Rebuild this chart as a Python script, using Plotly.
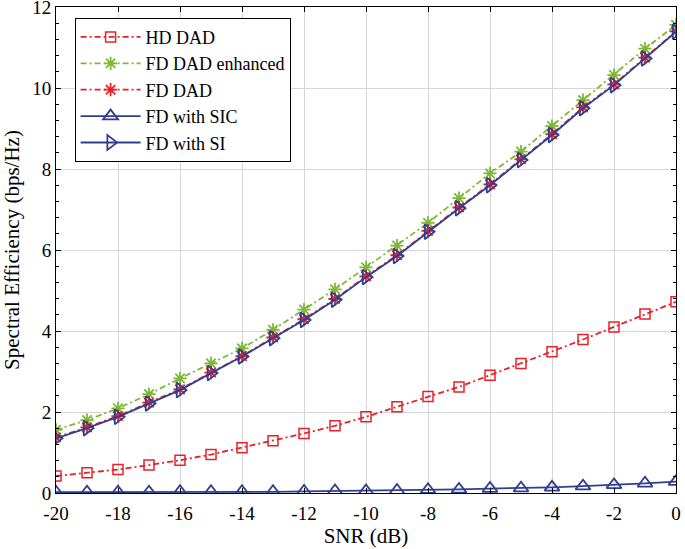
import plotly.graph_objects as go

snr = list(range(-20, 1))
hd_dad = [0.42, 0.50, 0.58, 0.69, 0.81, 0.95, 1.12, 1.29, 1.47, 1.66, 1.88,
          2.13, 2.38, 2.62, 2.91, 3.20, 3.49, 3.79, 4.10, 4.42, 4.72]
fd_dad_enh = [1.56, 1.80, 2.09, 2.44, 2.83, 3.20, 3.57, 4.03, 4.53, 5.03, 5.57,
              6.11, 6.67, 7.28, 7.89, 8.43, 9.06, 9.70, 10.32, 10.97, 11.56]
fd_dad = [1.37, 1.62, 1.90, 2.23, 2.56, 2.97, 3.38, 3.84, 4.29, 4.79, 5.35,
          5.87, 6.47, 7.05, 7.62, 8.24, 8.86, 9.52, 10.09, 10.75, 11.40]
fd_si = [1.35, 1.60, 1.88, 2.21, 2.54, 2.96, 3.37, 3.82, 4.27, 4.77, 5.33,
         5.85, 6.45, 7.03, 7.60, 8.22, 8.84, 9.50, 10.07, 10.73, 11.39]
fd_sic = [0.02, 0.02, 0.02, 0.02, 0.03, 0.03, 0.03, 0.03, 0.04, 0.05, 0.05,
          0.06, 0.08, 0.09, 0.11, 0.12, 0.14, 0.17, 0.20, 0.24, 0.28]

x_ticks = list(range(-20, 1, 2))
x_ticktext = [str(v) for v in x_ticks]
y_ticks = list(range(0, 13, 2))

RED = "#E8202A"
GREEN = "#7CB835"
BLUE = "#2F3F8F"
DASHDOT = "6px,3px,2px,3px"
FONT = "Liberation Serif"
FS = 19

fig = go.Figure()
fig.add_trace(go.Scatter(
    x=snr, y=hd_dad, name="HD DAD", mode="lines+markers",
    line=dict(color=RED, width=1.8, dash=DASHDOT),
    marker=dict(symbol="square-open", size=10, color=RED, line=dict(width=1.5, color=RED))))
fig.add_trace(go.Scatter(
    x=snr, y=fd_dad_enh, name="FD DAD enhanced", mode="lines+markers",
    line=dict(color=GREEN, width=1.8, dash=DASHDOT),
    marker=dict(symbol="asterisk-open", size=11, color=GREEN, line=dict(width=1.8, color=GREEN))))
fig.add_trace(go.Scatter(
    x=snr, y=fd_dad, name="FD DAD", mode="lines+markers",
    line=dict(color=RED, width=1.8, dash=DASHDOT),
    marker=dict(symbol="asterisk-open", size=11, color=RED, line=dict(width=1.8, color=RED))))
fig.add_trace(go.Scatter(
    x=snr, y=fd_sic, name="FD with SIC", mode="lines+markers",
    line=dict(color=BLUE, width=1.8),
    marker=dict(symbol="triangle-up-open", size=13, color=BLUE, line=dict(width=1.8, color=BLUE))))
fig.add_trace(go.Scatter(
    x=snr, y=fd_si, name="FD with SI", mode="lines+markers",
    line=dict(color=BLUE, width=1.8),
    marker=dict(symbol="triangle-right-open", size=13, color=BLUE, line=dict(width=1.8, color=BLUE))))

fig.update_layout(
    width=685, height=549,
    margin=dict(l=56, r=9, t=7, b=56, autoexpand=False),
    paper_bgcolor="white", plot_bgcolor="white",
    font=dict(family=FONT, size=FS, color="black"),
    showlegend=True,
    legend=dict(x=0.03, y=0.978, xanchor="left", yanchor="top",
                bgcolor="white", bordercolor="black", borderwidth=1,
                itemwidth=60,
                font=dict(family=FONT, size=18), tracegroupgap=0),
)
fig.update_xaxes(
    range=[-20, 0], tickvals=x_ticks, ticktext=x_ticktext, automargin=False,
    showline=True, linecolor="black", linewidth=1, mirror="ticks",
    ticks="inside", ticklen=5, tickcolor="black", ticklabeloverflow="allow",
    ticklabelstandoff=3,
    showgrid=True, gridcolor="#D6D6D6", gridwidth=1, zeroline=False,
    title=dict(text="SNR (dB)", standoff=2, font=dict(family=FONT, size=21)),
    tickfont=dict(family=FONT, size=FS),
)
fig.update_yaxes(
    range=[0, 12], tickvals=y_ticks, automargin=False,
    showline=True, linecolor="black", linewidth=1, mirror="ticks",
    ticks="inside", ticklen=5, tickcolor="black", ticklabeloverflow="allow",
    minor=dict(dtick=0.4, ticks="inside", ticklen=3, tickcolor="black", showgrid=False),
    showgrid=True, gridcolor="#D6D6D6", gridwidth=1, zeroline=False,
    title=dict(text="Spectral Efficiency (bps/Hz)", standoff=6, font=dict(family=FONT, size=21)),
    tickfont=dict(family=FONT, size=FS),
)

fig.write_html("out.html", config={"displayModeBar": False},
               post_script="document.body.style.margin='0';")
